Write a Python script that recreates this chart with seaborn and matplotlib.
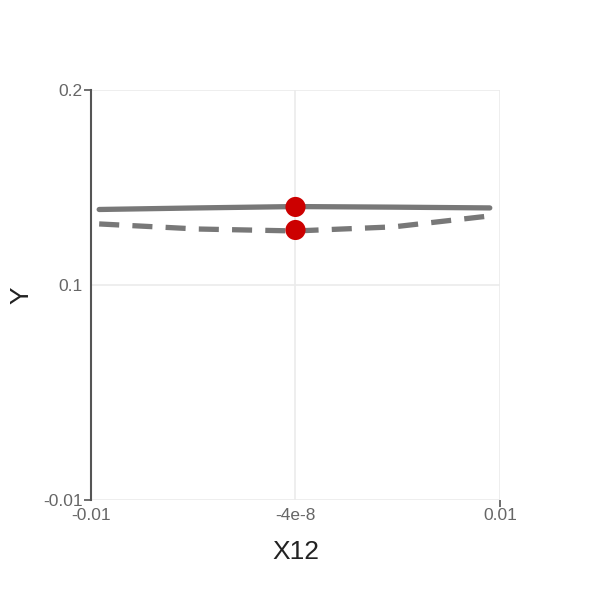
import numpy as np
import pandas as pd
import matplotlib
matplotlib.use('Agg')
import matplotlib.pyplot as plt
import seaborn as sns

# values
x_vals = [-0.0096, -0.0048, 0.0, 0.0048, 0.0095]
y_solid = [0.1388, 0.1396, 0.1403, 0.1400, 0.1396]
y_dashed = [0.1314, 0.1288, 0.1278, 0.1299, 0.1355]
pt_x = [-4e-8, -4e-8]
pt_y = [0.1401, 0.1283]

x_ticks = [-0.01, -4e-8, 0.01]
x_labels = ['-0.01', '-4e-8', '0.01']
y_ticks = [-0.01, 0.1, 0.2]
y_labels = ['-0.01', '0.1', '0.2']

df = pd.DataFrame({
    'x': x_vals * 2,
    'y': y_solid + y_dashed,
    'kind': ['solid'] * len(x_vals) + ['dashed'] * len(x_vals),
})
pts = pd.DataFrame({'x': pt_x, 'y': pt_y})

sns.set_style('white')
plt.rcParams['font.family'] = ['Liberation Sans', 'DejaVu Sans']

fig = plt.figure(figsize=(5.9, 5.9), dpi=100)
ax = fig.add_axes([91 / 590, 90 / 590, 409 / 590, 410 / 590])

sns.lineplot(data=df, x='x', y='y', style='kind', style_order=['solid', 'dashed'],
             dashes={'solid': '', 'dashed': (3.8, 2.5)}, color='#787878', linewidth=3.8,
             legend=False, ax=ax)
sns.scatterplot(data=pts, x='x', y='y', color='#cc0000', s=210, edgecolor='none',
                zorder=5, ax=ax)

ax.set_xlim(-0.01, 0.01)
ax.set_ylim(-0.01, 0.2)
ax.set_xticks(x_ticks)
ax.set_xticklabels(x_labels)
ax.set_yticks(y_ticks)
ax.set_yticklabels(y_labels)
ax.grid(True, color='#ebebeb', linewidth=1.2)
ax.set_axisbelow(True)

# small end ticks like the reference
ax.xaxis.remove_overlapping_locs = False
ax.yaxis.remove_overlapping_locs = False
ax.set_yticks([-0.01, 0.2], minor=True)
ax.set_xticks([0.01], minor=True)
ax.tick_params(axis='y', which='minor', left=True, length=5, width=1.2, color='#555555')
ax.tick_params(axis='x', which='minor', bottom=True, length=5, width=1.2, color='#555555')

for s in ['top', 'right', 'bottom']:
    ax.spines[s].set_visible(False)
ax.spines['left'].set_color('#555555')
ax.spines['left'].set_linewidth(1.5)

ax.tick_params(axis='both', which='major', labelsize=12.5, labelcolor='#666666', length=0)
ax.tick_params(axis='x', which='major', pad=6)
ax.tick_params(axis='y', which='major', pad=6)

ax.set_xlabel('X12', fontsize=19, color='#222222')
ax.set_ylabel('Y', fontsize=19, color='#222222')
ax.xaxis.set_label_coords(0.5, -0.098)
ax.yaxis.set_label_coords(-0.141, 0.5)

fig.savefig('out.png', dpi=100, facecolor='white')
